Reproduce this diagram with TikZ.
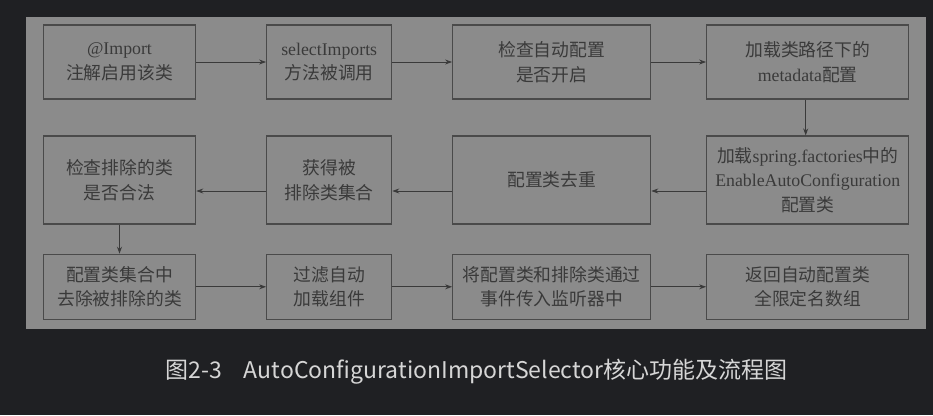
\documentclass[tikz,border=0pt]{standalone}
\usepackage{fontspec}
\setmainfont{Liberation Serif}
\newfontfamily\cjk{Noto Sans CJK SC}
\newfontfamily\capfont{Noto Sans CJK SC}
\usetikzlibrary{arrows.meta}
\newcommand{\C}[1]{{\cjk #1}}
\definecolor{bgdark}{HTML}{1F2023}
\definecolor{panel}{HTML}{8B8B8B}
\definecolor{edge}{HTML}{4A4A4A}
\definecolor{ink}{HTML}{3A3A3A}
\definecolor{captxt}{HTML}{D6D6D6}
\begin{document}
\begin{tikzpicture}[x=1pt,y=-1pt,
  box/.style={draw=edge,line width=1.2pt,fill=panel,text=ink,inner sep=0pt,align=center,
    font=\fontsize{17.8pt}{24.5pt}\selectfont},
  arr/.style={draw=ink,line width=0.9pt,-{Stealth[length=7pt,width=5pt]}}]
\fill[bgdark] (0,0) rectangle (933,415);
\useasboundingbox (0,0) rectangle (933,415);
\fill[panel] (26,17) rectangle (926,328.7);
% row 1
\node[box,minimum width=152.4pt,minimum height=74pt] (a1) at (119.5,62) {@Import\\\C{注解启用该类}};
\node[box,minimum width=125pt,minimum height=74pt] (a2) at (329.2,62) {selectImports\\\C{方法被调用}};
\node[box,minimum width=198pt,minimum height=74pt] (a3) at (551.7,62) {\C{检查自动配置}\\\C{是否开启}};
\node[box,minimum width=202pt,minimum height=74pt] (a4) at (807.7,62) {\C{加载类路径下的}\\metadata\C{配置}};
% row 2
\node[box,minimum width=152.4pt,minimum height=88pt] (b1) at (119.5,180) {\C{检查排除的类}\\\C{是否合法}};
\node[box,minimum width=125pt,minimum height=88pt] (b2) at (329.2,180) {\C{获得被}\\\C{排除类集合}};
\node[box,minimum width=198pt,minimum height=88pt] (b3) at (551.7,180) {\C{配置类去重}};
\node[box,minimum width=202pt,minimum height=88pt] (b4) at (807.7,180) {\C{加载}spring.factories\C{中的}\\EnableAutoConfiguration\\\C{配置类}};
% row 3
\node[box,minimum width=152.4pt,minimum height=65pt] (c1) at (119.5,286.8) {\C{配置类集合中}\\\C{去除被排除的类}};
\node[box,minimum width=125pt,minimum height=65pt] (c2) at (329.2,286.8) {\C{过滤自动}\\\C{加载组件}};
\node[box,minimum width=198pt,minimum height=65pt] (c3) at (551.7,286.8) {\C{将配置类和排除类通过}\\\C{事件传入监听器中}};
\node[box,minimum width=202pt,minimum height=65pt] (c4) at (807.7,286.8) {\C{返回自动配置类}\\\C{全限定名数组}};
% arrows
\draw[arr] (a1.east) -- (a2.west);
\draw[arr] (a2.east) -- (a3.west);
\draw[arr] (a3.east) -- (a4.west);
\draw[arr] (a4.south -| 805.7,0) -- (b4.north -| 805.7,0);
\draw[arr] (b4.west |- 0,191) -- (b3.east |- 0,191);
\draw[arr] (b3.west |- 0,191) -- (b2.east |- 0,191);
\draw[arr] (b2.west |- 0,191) -- (b1.east |- 0,191);
\draw[arr] (b1.south) -- (c1.north);
\draw[arr] (c1.east) -- (c2.west);
\draw[arr] (c2.east) -- (c3.west);
\draw[arr] (c3.east) -- (c4.west);
% caption
\node[text=captxt,font=\capfont\fontsize{23pt}{27pt}\selectfont,inner sep=0pt] (cap) at (476.5,372) {图2-3\hspace{22pt}AutoConfigurationImportSelector核心功能及流程图};
\end{tikzpicture}
\end{document}
